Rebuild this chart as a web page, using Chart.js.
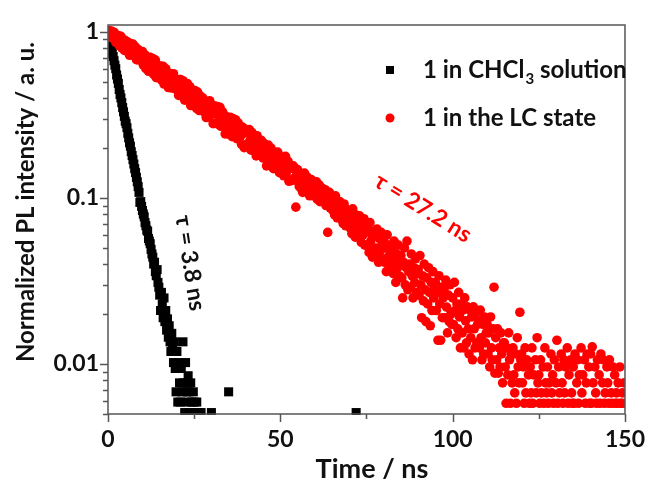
<!DOCTYPE html>
<html>
<head>
<meta charset="utf-8">
<script src="https://cdn.jsdelivr.net/npm/chart.js@4.4.0/dist/chart.umd.min.js"></script>
<style>
  html, body { margin: 0; padding: 0; background: #fff; }
  canvas { display: block; }
</style>
</head>
<body>
<canvas id="plChart" width="657" height="485"></canvas>
<script>
// PL decay curves

// red: 1 in the LC state
// 0-60 ns, bins at 0, 0.5, 1.0 ... ns
const lcEarlyStart = 0;
const lcEarlyBin = 0.5;
const lcEarly = [
    0.94, 1.00, 1.01, 0.93, 0.96, 0.885, 0.95, 0.835, 0.80, 0.89,
    0.89, 0.775, 0.82, 0.85, 0.727, 0.75, 0.81, 0.68, 0.745, 0.677,
    0.76, 0.646, 0.60, 0.694, 0.65, 0.58, 0.69, 0.59, 0.53, 0.628,
    0.576, 0.515, 0.62, 0.523, 0.556, 0.462, 0.562, 0.48, 0.56, 0.454,
    0.489, 0.414, 0.517, 0.44, 0.472, 0.393, 0.489, 0.417, 0.36, 0.438,
    0.379, 0.403, 0.434, 0.336, 0.363, 0.40, 0.328, 0.305, 0.365, 0.385,
    0.319, 0.28, 0.358, 0.32, 0.277, 0.351, 0.282, 0.304, 0.243, 0.303,
    0.257, 0.306, 0.234, 0.264, 0.296, 0.227, 0.259, 0.236, 0.267, 0.201,
    0.248, 0.212, 0.258, 0.194, 0.214, 0.233, 0.179, 0.208, 0.189, 0.222,
    0.174, 0.201, 0.156, 0.208, 0.174, 0.181, 0.15, 0.188, 0.155, 0.177,
    0.154, 0.176, 0.136, 0.178, 0.151, 0.126, 0.152, 0.13, 0.152, 0.088,
    0.148, 0.117, 0.129, 0.108, 0.141, 0.115, 0.129, 0.103, 0.129, 0.103
];
// 0-60 ns, bins at 0.25, 0.75, 1.25 ... ns
const lcEarlyMidStart = 0.25;
const lcEarlyMid = [
    1.02, 0.925, 0.945, 0.995, 0.866, 0.95, 0.826, 0.94, 0.83, 0.773,
    0.792, 0.867, 0.723, 0.773, 0.844, 0.782, 0.68, 0.783, 0.676, 0.741,
    0.631, 0.728, 0.662, 0.579, 0.702, 0.657, 0.554, 0.676, 0.593, 0.53,
    0.622, 0.544, 0.485, 0.6, 0.5, 0.537, 0.46, 0.552, 0.488, 0.518,
    0.442, 0.517, 0.449, 0.508, 0.388, 0.463, 0.412, 0.468, 0.377, 0.407,
    0.443, 0.345, 0.377, 0.411, 0.338, 0.347, 0.379, 0.347, 0.307, 0.348,
    0.362, 0.333, 0.282, 0.355, 0.291, 0.27, 0.33, 0.283, 0.31, 0.243,
    0.288, 0.25, 0.301, 0.233, 0.259, 0.283, 0.238, 0.21, 0.245, 0.26,
    0.205, 0.246, 0.222, 0.248, 0.197, 0.204, 0.237, 0.181, 0.211, 0.183,
    0.213, 0.179, 0.194, 0.159, 0.2, 0.161, 0.185, 0.167, 0.189, 0.142,
    0.174, 0.143, 0.16, 0.143, 0.166, 0.15, 0.127, 0.156, 0.132, 0.142,
    0.124, 0.139, 0.112, 0.136, 0.121, 0.134, 0.107, 0.122, 0.107, 0.122
];
// 60-150 ns, one value per 0.25 ns bin
const lcLateStart = 60;
const lcLateBin = 0.25;
const lcLate = [
    0.118, 0.104, 0.125, 0.098, 0.111, 0.12, 0.095, 0.108, 0.115, 0.1,
    0.106, 0.094, 0.112, 0.09, 0.101, 0.062, 0.097, 0.108, 0.087, 0.099,
    0.098, 0.084, 0.094, 0.079, 0.103, 0.088, 0.076, 0.091, 0.082, 0.095,
    0.088, 0.074, 0.083, 0.07, 0.092, 0.079, 0.068, 0.085, 0.072, 0.081,
    0.082, 0.066, 0.077, 0.061, 0.086, 0.07, 0.074, 0.058, 0.079, 0.065,
    0.072, 0.058, 0.078, 0.063, 0.054, 0.069, 0.06, 0.075, 0.052, 0.066,
    0.068, 0.052, 0.064, 0.047, 0.071, 0.055, 0.06, 0.044, 0.063, 0.05,
    0.06, 0.046, 0.065, 0.05, 0.041, 0.057, 0.048, 0.062, 0.043, 0.053,
    0.056, 0.041, 0.05, 0.036, 0.06, 0.044, 0.052, 0.038, 0.047, 0.042,
    0.049, 0.035, 0.055, 0.04, 0.031, 0.046, 0.038, 0.052, 0.034, 0.043,
    0.045, 0.033, 0.025, 0.041, 0.05, 0.03, 0.038, 0.055, 0.028, 0.036,
    0.04, 0.029, 0.046, 0.034, 0.025, 0.038, 0.031, 0.043, 0.027, 0.035,
    0.037, 0.026, 0.045, 0.03, 0.019, 0.034, 0.024, 0.04, 0.028, 0.018,
    0.033, 0.023, 0.038, 0.027, 0.017, 0.031, 0.021, 0.036, 0.025, 0.029,
    0.031, 0.021, 0.027, 0.0139, 0.034, 0.023, 0.0139, 0.029, 0.019, 0.025,
    0.028, 0.019, 0.032, 0.022, 0.0154, 0.026, 0.018, 0.03, 0.02, 0.0173,
    0.025, 0.0173, 0.031, 0.021, 0.0144, 0.023, 0.0163, 0.027, 0.0192, 0.0125,
    0.023, 0.0154, 0.0211, 0.0125, 0.025, 0.0182, 0.0134, 0.0221, 0.0163, 0.0115,
    0.0211, 0.0144, 0.0192, 0.0106, 0.0221, 0.0163, 0.0125, 0.0202, 0.0134, 0.0173,
    0.0182, 0.0125, 0.0211, 0.0144, 0.0106, 0.0173, 0.0115, 0.0192, 0.0134, 0.0154,
    0.0173, 0.0115, 0.0154, 0.0096, 0.0192, 0.0125, 0.0106, 0.0163, 0.029, 0.0088,
    0.0144, 0.0106, 0.0163, 0.0088, 0.0125, 0.0096, 0.0154, 0.0115, 0.0077, 0.0134,
    0.0134, 0.0096, 0.0058, 0.0125, 0.0086, 0.0154, 0.0106, 0.0058, 0.0115, 0.0077,
    0.0125, 0.0086, 0.0067, 0.0115, 0.0058, 0.0144, 0.0096, 0.0077, 0.0205, 0.0106,
    0.0115, 0.0077, 0.0096, 0.0058, 0.0125, 0.0067, 0.0106, 0.0038, 0.0086, 0.0058,
    0.0096, 0.0067, 0.0125, 0.0058, 0.0086, 0.0038, 0.0106, 0.0067, 0.0144, 0.0077,
    0.0086, 0.0058, 0.0106, 0.0067, 0.0038, 0.0096, 0.0058, 0.0125, 0.0077, 0.0067,
    0.0096, 0.0058, 0.0077, 0.0038, 0.0115, 0.0067, 0.0086, 0.0058, 0.0106, 0.0038,
    0.0077, 0.0139, 0.0058, 0.0096, 0.0067, 0.0038, 0.0115, 0.0077, 0.0058, 0.0106,
    0.0067, 0.0096, 0.0038, 0.0125, 0.0058, 0.0086, 0.0038, 0.0106, 0.0067, 0.0058,
    0.0096, 0.0058, 0.0115, 0.0038, 0.0077, 0.0106, 0.0058, 0.0086, 0.0038, 0.0125,
    0.0067, 0.0086, 0.0038, 0.0106, 0.0058, 0.0077, 0.0115, 0.0038, 0.0096, 0.0058,
    0.0115, 0.0058, 0.0127, 0.0077, 0.0038, 0.0096, 0.0067, 0.0058, 0.0106, 0.0038,
    0.0086, 0.0058, 0.0115, 0.0038, 0.0077, 0.0106, 0.0058, 0.0067, 0.0038, 0.0096,
    0.0077, 0.0058, 0.0106, 0.0038, 0.0067, 0.0058, 0.0096, 0.0038, 0.0086, 0.0058,
    0.0067, 0.0058, 0.0077, 0.0038, 0.0096, 0.0058, 0.0058, 0.0067, 0.0038, 0.0077,
    0.0058
];

// black: 1 in CHCl3 solution
const solTime = [
    0, 0.25, 0.5, 0.75, 1, 1.25, 1.5, 1.75, 2, 2.25,
    2.5, 2.75, 3, 3.25, 3.5, 3.75, 4, 4.25, 4.5, 4.75,
    5, 5.25, 5.5, 5.75, 6, 6.25, 6.5, 6.75, 7, 7.25,
    7.5, 7.75, 8, 8.25, 8.5, 8.75, 9, 9.25, 9.5, 9.75,
    10, 10.25, 10.5, 10.75, 11, 11.25, 11.5, 11.75, 12, 12.25,
    12.5, 12.75, 13, 13.25, 13.5, 13.75, 14, 14.25, 14.5, 14.75, 15,
    15.25, 15.5, 15.75, 16, 16.25, 16.5, 16.75, 17, 17.25, 17.5, 17.75,
    18, 18.25, 18.5, 18.75, 19, 19.25, 19.5, 19.75, 20, 20.25, 20.5, 20.75,
    21, 21.25, 21.5, 21.75, 22, 22.25, 22.5, 22.75, 23, 23.25, 23.5, 23.75,
    24, 24.25, 24.5, 24.75, 25, 25.25, 25.5, 25.75, 26, 26.5, 27, 27.5, 28,
    30, 35, 72
];
const solIntensity = [
    0.92, 0.9, 0.85, 0.82, 0.79, 0.74, 0.71, 0.67, 0.63, 0.6,
    0.55, 0.52, 0.49, 0.45, 0.42, 0.4, 0.375, 0.35, 0.33, 0.31,
    0.29, 0.28, 0.265, 0.245, 0.23, 0.215, 0.205, 0.19, 0.18, 0.17,
    0.16, 0.15, 0.142, 0.133, 0.125, 0.117, 0.108, 0.094, 0.095, 0.089,
    0.084, 0.08, 0.077, 0.071, 0.068, 0.064, 0.063, 0.057, 0.055, 0.053,
    0.049, 0.046, 0.044, 0.04, 0.041, 0.036, 0.034, 0.037, 0.031, 0.029, 0.026,
    0.021, 0.027, 0.023, 0.019, 0.025, 0.018, 0.021, 0.016, 0.0187, 0.0145, 0.017,
    0.0136, 0.0119, 0.0153, 0.0128, 0.0102, 0.0136, 0.0094, 0.0068, 0.0119, 0.0059, 0.0102, 0.0077,
    0.0059, 0.0094, 0.0068, 0.0136, 0.0077, 0.0051, 0.0102, 0.0068, 0.0059, 0.0085, 0.0068, 0.0051,
    0.0077, 0.0059, 0.0043, 0.0068, 0.0059, 0.0051, 0.0043, 0.0059, 0.0051, 0.0043, 0.0051, 0.0043, 0.0043,
    0.0051, 0.0068, 0.0051
];

const xTicks = [0, 25, 50, 75, 100, 125, 150];
const xLabelled = [0, 50, 100, 150];
const yDecades = [0.01, 0.1, 1];

const FONT = 'Lato, "Open Sans", sans-serif';
const axisColor = '#555';

const lcPoints = [
    ...lcEarly.map((v, i) => ({ x: lcEarlyStart + i * lcEarlyBin, y: v })),
    ...lcEarlyMid.map((v, i) => ({ x: lcEarlyMidStart + i * lcEarlyBin, y: v })),
    ...lcLate.map((v, i) => ({ x: lcLateStart + i * lcLateBin, y: v }))
];
const solPoints = solTime.map((t, i) => ({ x: t, y: solIntensity[i] }));

function isDecade(v) {
    return yDecades.some(d => Math.abs(v / d - 1) < 1e-6);
}

// frame, tick marks, axis titles, legend and the two lifetime labels
const decorations = {
    id: 'decorations',
    afterDraw(chart) {
        const { ctx, chartArea: a, scales: { x, y } } = chart;
        ctx.save();

        ctx.strokeStyle = axisColor;
        ctx.lineWidth = 1.5;
        ctx.strokeRect(a.left, a.top, a.right - a.left, a.bottom - a.top);

        ctx.beginPath();
        for (let k = -3; k <= 0; k++) {
            for (let m = 1; m <= 9; m++) {
                const v = m * Math.pow(10, k);
                if (v < y.min || v > y.max) continue;
                const py = Math.round(y.getPixelForValue(v)) + 0.5;
                ctx.moveTo(a.left, py);
                ctx.lineTo(a.left - (m === 1 ? 8 : 5), py);
            }
        }
        xTicks.forEach(t => {
            const px = Math.round(x.getPixelForValue(t)) + 0.5;
            ctx.moveTo(px, a.bottom);
            ctx.lineTo(px, a.bottom + (t % 50 === 0 ? 8 : 5));
        });
        ctx.stroke();

        ctx.fillStyle = '#111';
        ctx.textAlign = 'center';
        ctx.textBaseline = 'middle';
        ctx.font = 'bold 27px ' + FONT;
        ctx.fillText('Time / ns', 372, 469);

        ctx.save();
        ctx.translate(26, 202);
        ctx.rotate(-Math.PI / 2);
        ctx.font = 'bold 24px ' + FONT;
        ctx.fillText('Normalized PL intensity / a. u.', 0, 0);
        ctx.restore();

        // legend
        ctx.fillStyle = '#000';
        ctx.fillRect(386, 66, 8, 8);
        ctx.fillStyle = '#ff0000';
        ctx.beginPath();
        ctx.arc(390, 118, 4.5, 0, Math.PI * 2);
        ctx.fill();

        ctx.fillStyle = '#111';
        ctx.textAlign = 'left';
        ctx.textBaseline = 'alphabetic';
        ctx.font = 'bold 24px ' + FONT;
        let tx = 423;
        ctx.fillText('1 in CHCl', tx, 78);
        tx += ctx.measureText('1 in CHCl').width + 1;
        ctx.font = 'bold 15px ' + FONT;
        ctx.fillText('3', tx, 84);
        tx += ctx.measureText('3').width;
        ctx.font = 'bold 24px ' + FONT;
        ctx.fillText(' solution', tx, 78);
        ctx.fillText('1 in the LC state', 423, 126);

        // lifetime labels
        ctx.textAlign = 'center';
        ctx.textBaseline = 'middle';
        ctx.font = 'bold 23px ' + FONT;
        ctx.save();
        ctx.translate(190, 263);
        ctx.rotate(81 * Math.PI / 180);
        ctx.fillStyle = '#111';
        ctx.fillText('\u03c4 = 3.8 ns', 0, 0);
        ctx.restore();

        ctx.save();
        ctx.translate(423, 208);
        ctx.rotate(32 * Math.PI / 180);
        ctx.fillStyle = '#ff0000';
        ctx.fillText('\u03c4 = 27.2 ns', 0, 0);
        ctx.restore();

        ctx.restore();
    }
};

new Chart(document.getElementById('plChart'), {
    type: 'scatter',
    data: {
        datasets: [
            {
                label: '1 in the LC state',
                data: lcPoints,
                pointStyle: 'circle',
                pointRadius: 4.8,
                borderWidth: 0,
                backgroundColor: '#ff0000',
                order: 1,
                clip: { left: 0, top: 3, right: 0, bottom: 1 }
            },
            {
                label: '1 in CHCl3 solution',
                data: solPoints,
                pointStyle: 'rect',
                pointRadius: 6.4,
                borderWidth: 0,
                backgroundColor: '#000',
                order: 2,
                clip: { left: 0, top: 3, right: 0, bottom: 1 }
            }
        ]
    },
    options: {
        responsive: false,
        devicePixelRatio: 1,
        animation: false,
        events: [],
        layout: { padding: { top: 25, right: 22, left: 0, bottom: 0 } },
        plugins: {
            legend: { display: false },
            tooltip: { enabled: false },
            title: { display: false }
        },
        scales: {
            x: {
                type: 'linear',
                min: 0,
                max: 150,
                grid: { display: false, drawTicks: false },
                border: { display: false },
                afterFit: s => { s.height = 71; },
                afterBuildTicks: s => { s.ticks = xTicks.map(v => ({ value: v })); },
                ticks: {
                    padding: 12,
                    color: '#111',
                    maxRotation: 0,
                    autoSkip: false,
                    font: { family: FONT, size: 23, weight: 'bold' },
                    callback: v => (xLabelled.includes(v) ? String(v) : '')
                }
            },
            y: {
                type: 'logarithmic',
                min: 0.005,
                max: 1.1,
                grid: { display: false, drawTicks: false },
                border: { display: false },
                afterFit: s => { s.width = 108; },
                afterBuildTicks: s => { s.ticks = yDecades.map(v => ({ value: v })); },
                ticks: {
                    padding: 9,
                    color: '#111',
                    autoSkip: false,
                    font: { family: FONT, size: 23, weight: 'bold' },
                    callback: v => (isDecade(v) ? String(v) : '')
                }
            }
        }
    },
    plugins: [decorations]
});
</script>
</body>
</html>
